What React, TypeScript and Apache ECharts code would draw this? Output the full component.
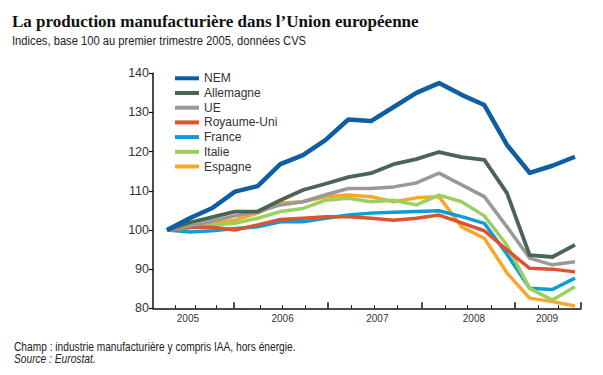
import React, { useEffect, useRef } from "react";
import * as echarts from "echarts";

const quarters = [
  "2005T1", "2005T2", "2005T3", "2005T4",
  "2006T1", "2006T2", "2006T3", "2006T4",
  "2007T1", "2007T2", "2007T3", "2007T4",
  "2008T1", "2008T2", "2008T3", "2008T4",
  "2009T1", "2009T2", "2009T3",
];

const nem = [100, 103, 105.6, 109.8, 111.2, 116.8, 119.1, 123, 128.2, 127.8, 131.4, 135, 137.5, 134.5, 131.9, 121.7, 114.6, 116.4, 118.7];
const allemagne = [100, 101.9, 103.3, 104.7, 104.7, 107.6, 110.2, 111.8, 113.5, 114.5, 116.8, 118.1, 119.9, 118.6, 117.9, 109.4, 93.6, 93.1, 96.2];
const ue = [100, 101, 102.3, 103.6, 104.6, 106.4, 107.2, 109, 110.6, 110.6, 111, 112, 114.5, 111.5, 108.5, 100.8, 92.8, 91.1, 91.9];
const royaumeUni = [100, 100.7, 100.7, 100, 101.3, 102.7, 103, 103.4, 103.4, 103, 102.5, 103, 103.8, 101.8, 99.8, 94.9, 90.2, 90, 89.3];
const france = [100, 99.5, 99.8, 100.4, 100.8, 102.1, 102.1, 103, 103.8, 104.3, 104.5, 104.7, 104.9, 103.4, 101.7, 93.8, 85.1, 84.8, 87.7];
const italie = [100, 100.5, 101.2, 101.7, 103, 104.7, 105.5, 107.6, 108.1, 107.2, 107.6, 106.4, 108.9, 107.2, 103.6, 96.1, 85.1, 82.1, 85.5];
const espagne = [100, 101, 101.8, 102.5, 104.3, 106.9, 107.2, 108.5, 108.9, 108.5, 107.2, 108.2, 108.5, 100.8, 97.9, 89, 82.6, 81.7, 80.6];

const yearLabels = ["2005", "2006", "2007", "2008", "2009"];
const yearBoundaries = [2006, 2007, 2008, 2009];
const yTicks = [80, 90, 100, 110, 120, 130, 140];

const titleText = "La production manufacturière dans l’Union européenne";
const subtitleText = "Indices, base 100 au premier trimestre 2005, données CVS";
const noteText = "Champ : industrie manufacturière y compris IAA, hors énergie.";
const sourceText = "Source : Eurostat.";

// layout (year-unit axis used for the drawn time axis)
const AX_MIN = 2005.138;
const AX_MAX = 2009.702;
const labelPos = [2005.51, 2006.52, 2007.53, 2008.56, 2009.34];
const minorPos = [2005.38, 2005.59, 2005.81, 2006.28, 2006.52, 2006.76, 2007.25, 2007.5, 2007.74, 2008.25, 2008.49, 2008.74, 2009.25, 2009.46];

const SANS = "'Liberation Sans', Arial, sans-serif";

const seriesDefs = [
  { name: "Espagne", data: espagne, color: "#f8a72c", width: 3.5 },
  { name: "France", data: france, color: "#0b9dd8", width: 3.5 },
  { name: "Italie", data: italie, color: "#9ccf5d", width: 3.5 },
  { name: "Royaume-Uni", data: royaumeUni, color: "#e0512d", width: 3.5 },
  { name: "UE", data: ue, color: "#999999", width: 3.5 },
  { name: "Allemagne", data: allemagne, color: "#4b6554", width: 3.8 },
  { name: "NEM", data: nem, color: "#0d5ea3", width: 4.5 },
];
const legendOrder = ["NEM", "Allemagne", "UE", "Royaume-Uni", "France", "Italie", "Espagne"];

export default function App() {
  const ref = useRef<HTMLDivElement>(null);
  useEffect(() => {
    if (!ref.current) return;
    const chart = echarts.init(ref.current, null, { renderer: "svg" });
    const gridBase = { top: 73.3, height: 235, containLabel: false };
    chart.setOption({
      animation: false,
      backgroundColor: "#ffffff",
      grid: [
        { ...gridBase, left: 167, right: 28 },
        { ...gridBase, left: 153, right: 22 },
        { ...gridBase, left: 153, right: 22 },
      ],
      legend: {
        orient: "vertical",
        left: 175,
        top: 71.3,
        padding: 0,
        itemWidth: 24,
        itemHeight: 4,
        itemGap: 0.7,
        icon: "rect",
        data: legendOrder,
        textStyle: { fontFamily: SANS, fontSize: 12, color: "#333", lineHeight: 14 },
        selectedMode: false,
      },
      xAxis: [
        { type: "category", gridIndex: 0, data: quarters, boundaryGap: false, show: false },
        {
          type: "value", gridIndex: 1, min: AX_MIN, max: AX_MAX,
          axisLine: { show: true, lineStyle: { color: "#111", width: 1.5 } },
          axisTick: { show: true, inside: true, length: 6, customValues: [...yearBoundaries, AX_MAX], lineStyle: { color: "#111", width: 1.5 } },
          axisLabel: {
            show: true, customValues: labelPos, margin: 5,
            formatter: (v: number) => {
              const idx = labelPos.findIndex((p) => Math.abs(p - v) < 1e-6);
              return idx >= 0 ? yearLabels[idx] : "";
            },
            fontFamily: SANS, fontSize: 10, color: "#333",
          },
          splitLine: { show: false },
        },
        {
          type: "value", gridIndex: 2, min: AX_MIN, max: AX_MAX,
          axisLine: { show: false },
          axisTick: { show: true, inside: true, length: 3, customValues: minorPos, lineStyle: { color: "#111", width: 1 } },
          axisLabel: { show: false },
          splitLine: { show: false },
        },
      ],
      yAxis: [
        { type: "value", gridIndex: 0, min: 80, max: 140, show: false },
        {
          type: "value", gridIndex: 1, min: 80, max: 140, interval: 10,
          axisLine: { show: true, lineStyle: { color: "#111", width: 1.5 } },
          axisTick: { show: true, inside: false, length: 4, lineStyle: { color: "#111", width: 1.2 } },
          axisLabel: { margin: 4, fontFamily: SANS, fontSize: 12.5, color: "#333", customValues: yTicks },
          splitLine: { show: false },
        },
        { type: "value", gridIndex: 2, min: 80, max: 140, show: false },
      ],
      series: seriesDefs.map((s) => ({
        name: s.name,
        type: "line",
        xAxisIndex: 0,
        yAxisIndex: 0,
        data: s.data,
        symbol: "none",
        color: s.color,
        lineStyle: { color: s.color, width: s.width, join: "round" },
      })),
      graphic: [
        { type: "text", x: 12, y: 21, style: { text: titleText, verticalAlign: "middle", fontFamily: "'Liberation Serif', 'Times New Roman', serif", fontWeight: "bold", fontSize: 17, fill: "#111" } },
        { type: "text", x: 12, y: 41, scaleX: 0.895, style: { text: subtitleText, verticalAlign: "middle", lineHeight: 12, fontFamily: SANS, fontSize: 12.5, fill: "#222" } },
        { type: "text", x: 14, y: 346.5, scaleX: 0.85, style: { text: noteText, verticalAlign: "middle", lineHeight: 11, fontFamily: SANS, fontSize: 12, fill: "#222" } },
        { type: "text", x: 14, y: 358.5, scaleX: 0.85, style: { text: sourceText, verticalAlign: "middle", lineHeight: 11, fontFamily: SANS, fontSize: 12, fontStyle: "italic", fill: "#222" } },
      ],
    });
    return () => chart.dispose();
  }, []);
  return <div ref={ref} style={{ position: "fixed", left: 0, top: 0, width: 603, height: 375 }} />;
}
